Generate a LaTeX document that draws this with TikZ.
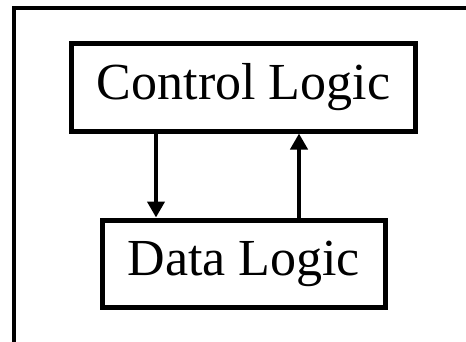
\documentclass[tikz,border=0pt]{standalone}
\usepackage{fontspec}
\setmainfont{Liberation Serif}
\usetikzlibrary{arrows.meta}
\begin{document}
\begin{tikzpicture}[x=1pt,y=-1pt,
	logic/.style={draw,line width=5pt,inner sep=0pt,font=\fontsize{52}{60}\selectfont},
	flow/.style={line width=4pt,-{Triangle[width=17pt,length=16pt]}}]
			\useasboundingbox (0,0) rectangle (466,341);
			\clip (0,0) rectangle (466,341);
			
			\draw[line width=4pt] (13.5,360) -- (13.5,8) -- (480,8);
			
			\node[logic,minimum width=344pt,minimum height=88pt] (C) at (243.5,87) {Control Logic};
			\node[logic,minimum width=282.5pt,minimum height=87pt] (D) at (243.75,263.5) {Data Logic};
			
			\draw[flow] (C.south -| 156,0) to (D.north -| 156,0);
			\draw[flow] (D.north -| 299,0) to (C.south -| 299,0);
			\end{tikzpicture}
\end{document}
